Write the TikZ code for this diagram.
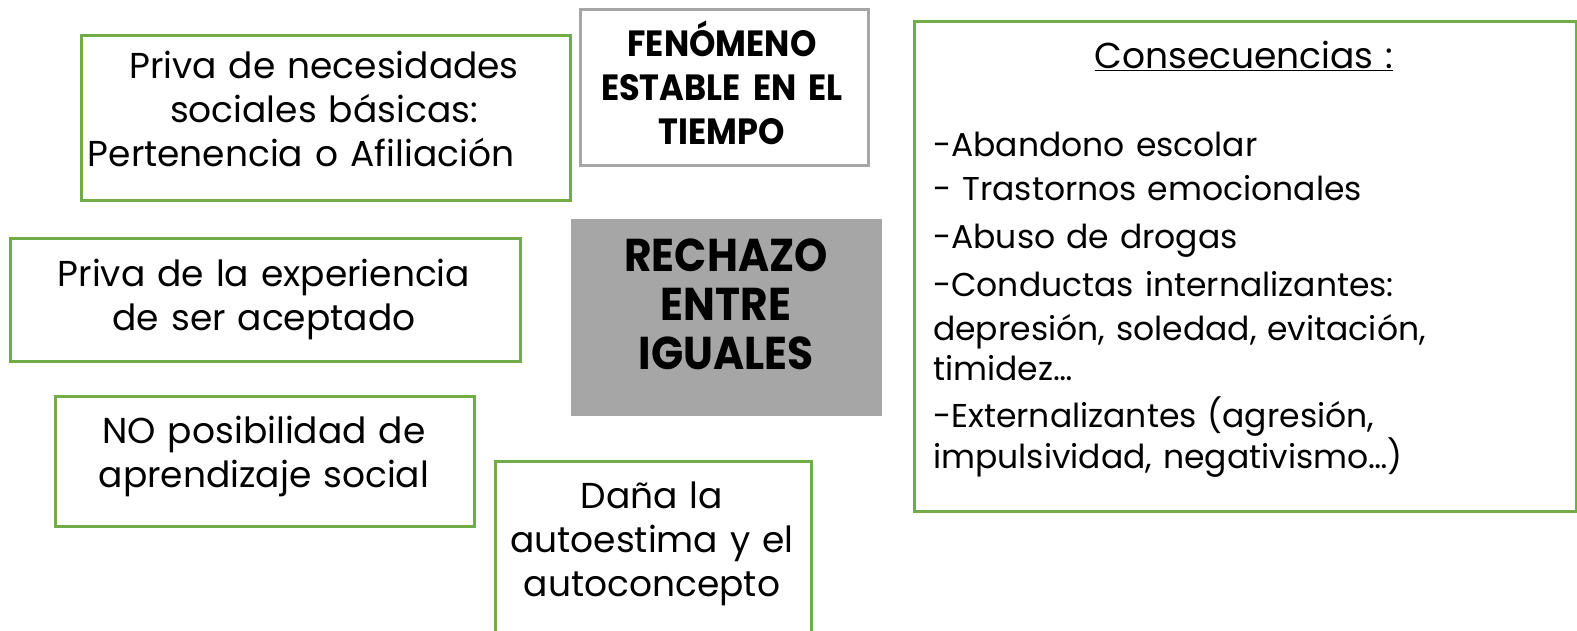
\documentclass[tikz,border=0pt]{standalone}
\usepackage{fontspec}
\setmainfont{Poppins}
\newfontfamily\narrowfont{Poppins}[FakeStretch=0.92]
\definecolor{grn}{HTML}{70AD47}
\definecolor{gline}{HTML}{A6A6A6}
\definecolor{gfill}{HTML}{A6A6A6}
\begin{document}
\begin{tikzpicture}[x=1pt,y=-1pt,
  gbox/.style={draw=grn, line width=2.5pt, inner sep=0pt, anchor=north west},
  greybox/.style={draw=gline, line width=2.5pt, inner sep=0pt, anchor=north west},
  fillbox/.style={fill=gfill, draw=none, inner sep=0pt, anchor=north west},
  txt/.style={inner sep=0pt, anchor=base, align=center, text width=500pt, font=\fontsize{36}{44}\selectfont},
  boldtxt/.style={inner sep=0pt, anchor=base, align=center, text width=300pt, font=\narrowfont\bfseries\fontsize{36.5}{44}\selectfont},
  bigtxt/.style={inner sep=0pt, anchor=base, align=center, text width=320pt, font=\narrowfont\bfseries\fontsize{46}{49}\selectfont},
]
\clip (0,0) rectangle (1577,630);
\fill[white] (0,0) rectangle (1577,630);

% boxes
\node[gbox, minimum width=489pt, minimum height=165pt] (b1) at (80,34) {};
\node[greybox, minimum width=288pt, minimum height=156pt] (fen) at (579,8) {};
\node[fillbox, minimum width=311pt, minimum height=197pt] (rech) at (571,219) {};
\node[gbox, minimum width=662pt, minimum height=490pt] (cons) at (913,20) {};
\node[gbox, minimum width=510pt, minimum height=123pt] (b2) at (9,237) {};
\node[gbox, minimum width=419pt, minimum height=130pt] (b3) at (54,395) {};
\node[gbox, minimum width=316pt, minimum height=200pt] (b4) at (494,460) {};

% texts
\node[txt] (t1) at (324,78) {Priva de necesidades\\ sociales básicas:\\ \mbox{Pertenencia o Afiliación\hspace{46pt}}};
\node[boldtxt] (tfen) at (722,56) {FENÓMENO\\ ESTABLE EN EL\\ TIEMPO};
\node[bigtxt] (trech) at (726,271) {RECHAZO\\ ENTRE\\ IGUALES};
\node[txt] (t2) at (264,286) {Priva de la experiencia\\ de ser aceptado};
\node[txt] (t3) at (264,443) {NO posibilidad de\\ aprendizaje social};
\node[txt] (t4) at (652,508) {Daña la\\ autoestima y el\\ autoconcepto};
\node[txt] (tcons) at (1244,68) {\underline{Consecuencias :}};
\node[inner sep=0pt, anchor=base west, align=left, text width=620pt, font=\fontsize{33}{41}\selectfont] (tlist) at (933,156)
 {-Abandono escolar\\[3pt]
  - Trastornos emocionales\\[7pt]
  -Abuso de drogas\\[7pt]
  -Conductas internalizantes:\\[3pt]
  depresión, soledad, evitación,\\[-1pt]
  timidez…\\[6pt]
  -Externalizantes (agresión,\\
  impulsividad, negativismo…)};
\end{tikzpicture}
\end{document}
